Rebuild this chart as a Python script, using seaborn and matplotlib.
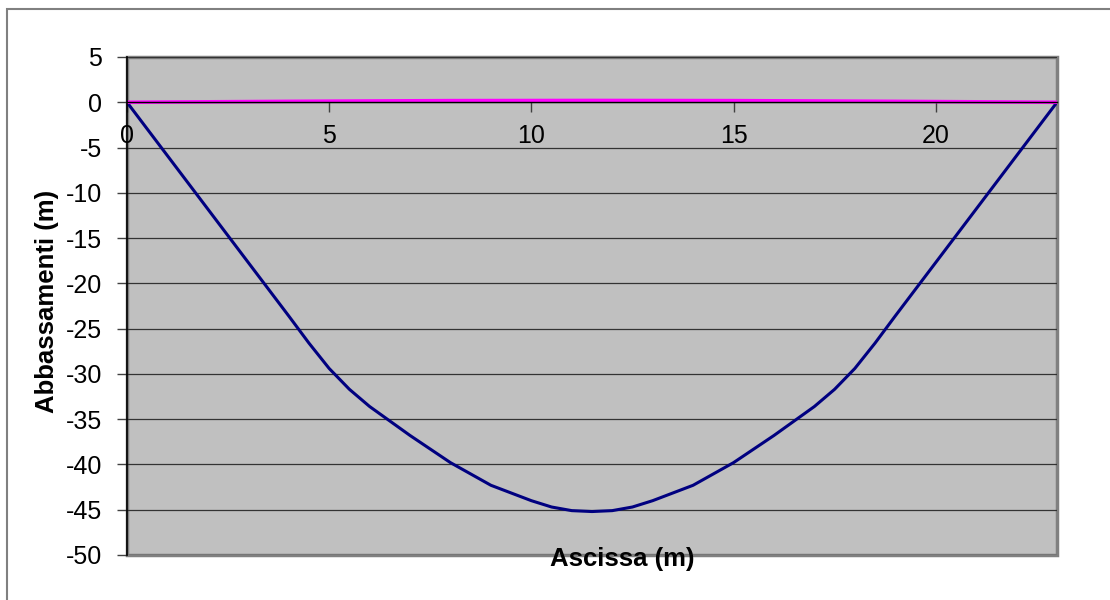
import numpy as np
import pandas as pd
import seaborn as sns
import matplotlib.pyplot as plt
from matplotlib.patches import Rectangle

# Dati
ascissa = [0, 1, 2, 3, 4, 4.5, 5, 5.5, 6, 6.5, 7, 8, 9, 10, 10.5, 11, 11.5,
           12, 12.5, 13, 14, 15, 16, 16.5, 17, 17.5, 18, 18.5, 19, 20, 21, 22, 23]
abbassamenti = [0, -5.9, -11.8, -17.7, -23.6, -26.6, -29.4, -31.7, -33.6, -35.2, -36.8, -39.8, -42.3, -44.0, -44.7, -45.1, -45.2,
                -45.1, -44.7, -44.0, -42.3, -39.8, -36.8, -35.2, -33.6, -31.7, -29.4, -26.6, -23.6, -17.7, -11.8, -5.9, 0]
ascissa_rif = [0, 4, 8, 11.5, 15, 19, 23]
rif = [0, 0.1, 0.18, 0.2, 0.18, 0.1, 0]

x_ticks = [0, 5, 10, 15, 20]
y_ticks = list(range(-50, 6, 5))

sns.set_theme(style="white")
plt.rcParams['font.family'] = ['Liberation Sans', 'DejaVu Sans']

df = pd.DataFrame({"x": ascissa, "y": abbassamenti})
df_rif = pd.DataFrame({"x": ascissa_rif, "y": rif})

fig = plt.figure(figsize=(11.1, 6), dpi=100)
ax = fig.add_axes([127 / 1110, 45 / 600, 930 / 1110, 498 / 600])
ax.set_facecolor("#C0C0C0")

sns.lineplot(data=df, x="x", y="y", sort=False, color="#000080", lw=2.2, ax=ax)
sns.lineplot(data=df_rif, x="x", y="y", sort=False, color="#FF00FF", lw=2.6, ax=ax)

ax.set_xlim(0, 23)
ax.set_ylim(-50, 5)
ax.set_xticks(x_ticks)
ax.set_yticks(y_ticks)
ax.set_xticklabels([str(t) for t in x_ticks])
ax.set_yticklabels([str(t) for t in y_ticks])

# griglia orizzontale
ax.set_axisbelow(True)
ax.yaxis.grid(True, color="#333333", lw=0.9)
ax.xaxis.grid(False)

# asse x che passa per lo zero
ax.spines['bottom'].set_position(('data', 0))
ax.spines['bottom'].set_color("black")
ax.spines['bottom'].set_linewidth(1.0)
ax.spines['left'].set_color("black")
ax.spines['left'].set_linewidth(1.2)
ax.spines['top'].set_visible(False)
ax.spines['right'].set_visible(False)
ax.add_patch(Rectangle((0, 0), 1, 1, transform=ax.transAxes, fill=False,
                       edgecolor="#808080", lw=2.5, clip_on=False, zorder=0.5))

ax.tick_params(axis='x', direction='out', length=7, width=1, color="#404040",
               pad=9, labelsize=18, labelcolor="black", bottom=True)
ax.tick_params(axis='y', direction='out', length=7, width=1, color="#404040",
               pad=11, labelsize=18, labelcolor="black", left=True)

ax.set_xlabel("Ascissa (m)", fontsize=18.5, fontweight="bold", color="black")
ax.set_ylabel("Abbassamenti (m)", fontsize=18.5, fontweight="bold", color="black")
ax.xaxis.set_label_coords(0.533, 0.016)
ax.yaxis.set_label_coords(-0.073, 0.51)

# bordo della figura
fig.patches.append(Rectangle((7 / 1110, -0.1), 1.1, 1.1 - 9 / 600,
                             transform=fig.transFigure, fill=False,
                             edgecolor="#808080", lw=1.5))

fig.savefig("out.png", dpi=100)
